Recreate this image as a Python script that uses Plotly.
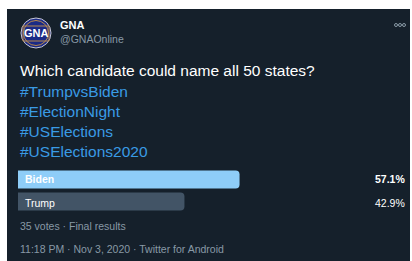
import plotly.graph_objects as go

W, H = 412, 261

candidates = ["Biden", "Trump"]
percentages = [57.1, 42.9]
pct_labels = ["57.1%", "42.9%"]
account_name = "GNA"
account_handle = "@GNAOnline"
question = "Which candidate could name all 50 states?"
hashtags = ["#TrumpvsBiden", "#ElectionNight", "#USElections", "#USElections2020"]
vote_line = "35 votes · Final results"
time_line = "11:18 PM · Nov 3, 2020 · Twitter for Android"

BG = "#15202b"
GREY = "#8899a6"
LINK = "#3a9be5"
BAR_COLORS = ["#8ecdf8", "#425466"]
FONT = "Liberation Sans, Arial, sans-serif"


def px(x):
    return x / W


def py(y):
    return 1 - y / H


fig = go.Figure()
fig.add_trace(go.Bar(
    y=candidates, x=percentages, orientation="h",
    marker=dict(color=BAR_COLORS, line=dict(width=0)),
    hoverinfo="skip", showlegend=False,
))

shapes = [
    dict(type="rect", xref="paper", yref="paper", x0=px(7), x1=px(410), y0=0, y1=py(9),
         fillcolor=BG, line=dict(width=0), layer="below"),
    # avatar
    dict(type="circle", xref="paper", yref="paper", x0=px(21), x1=px(51), y0=py(48), y1=py(18),
         fillcolor="#1b2a86", line=dict(color="#c9c9d6", width=1)),
    dict(type="circle", xref="paper", yref="paper", x0=px(23.5), x1=px(48.5), y0=py(45.5), y1=py(20.5),
         fillcolor="rgba(0,0,0,0)", line=dict(color="#b8884a", width=1)),
    dict(type="rect", xref="paper", yref="paper", x0=px(23), x1=px(49), y0=py(41), y1=py(26),
         fillcolor="rgba(0,0,0,0)", line=dict(color="#b8884a", width=1)),
]
for cx in (396, 400, 404):
    shapes.append(dict(type="circle", xref="paper", yref="paper",
                       x0=px(cx - 1.5), x1=px(cx + 1.5), y0=py(26.5), y1=py(23.5),
                       fillcolor="rgba(0,0,0,0)", line=dict(color=GREY, width=1)))

ann = []


def text(x, y, s, size, color, bold=False, anchor="left"):
    ann.append(dict(xref="paper", yref="paper", x=px(x), y=py(y), text=f"<b>{s}</b>" if bold else s,
                    showarrow=False, xanchor=anchor, yanchor="middle",
                    font=dict(family=FONT, size=size, color=color)))


text(36, 33.5, "GNA", 11, "white", bold=True, anchor="center")
text(58, 25, account_name, 11, "white", bold=True)
text(58, 39, account_handle, 10.5, GREY)
text(18, 70, question, 15.5, "white")
for i, tag in enumerate(hashtags):
    text(18, 91 + i * 20.3, tag, 15.5, LINK)

bar_y = [179, 202.5]
for i, c in enumerate(candidates):
    text(23, bar_y[i], c, 10.5, "white", bold=(i == 0))
    text(407, bar_y[i], pct_labels[i], 10.5, "white", bold=(i == 0), anchor="right")

text(18, 226, vote_line, 10.5, GREY)
text(18, 249, time_line, 10.5, GREY)

fig.update_layout(
    width=W, height=H, margin=dict(l=0, r=0, t=0, b=0),
    paper_bgcolor="white", plot_bgcolor="rgba(0,0,0,0)",
    bargap=0.18, barcornerradius=4,
    xaxis=dict(domain=[px(18), px(406)], range=[0, 100], visible=False, fixedrange=True),
    yaxis=dict(domain=[py(212.5), py(168.5)], autorange="reversed", visible=False, fixedrange=True),
    shapes=shapes, annotations=ann, showlegend=False,
)

fig.write_html(
    "out.html",
    config={"displayModeBar": False},
    post_script="document.body.style.margin='0';document.body.style.overflow='hidden';",
)
